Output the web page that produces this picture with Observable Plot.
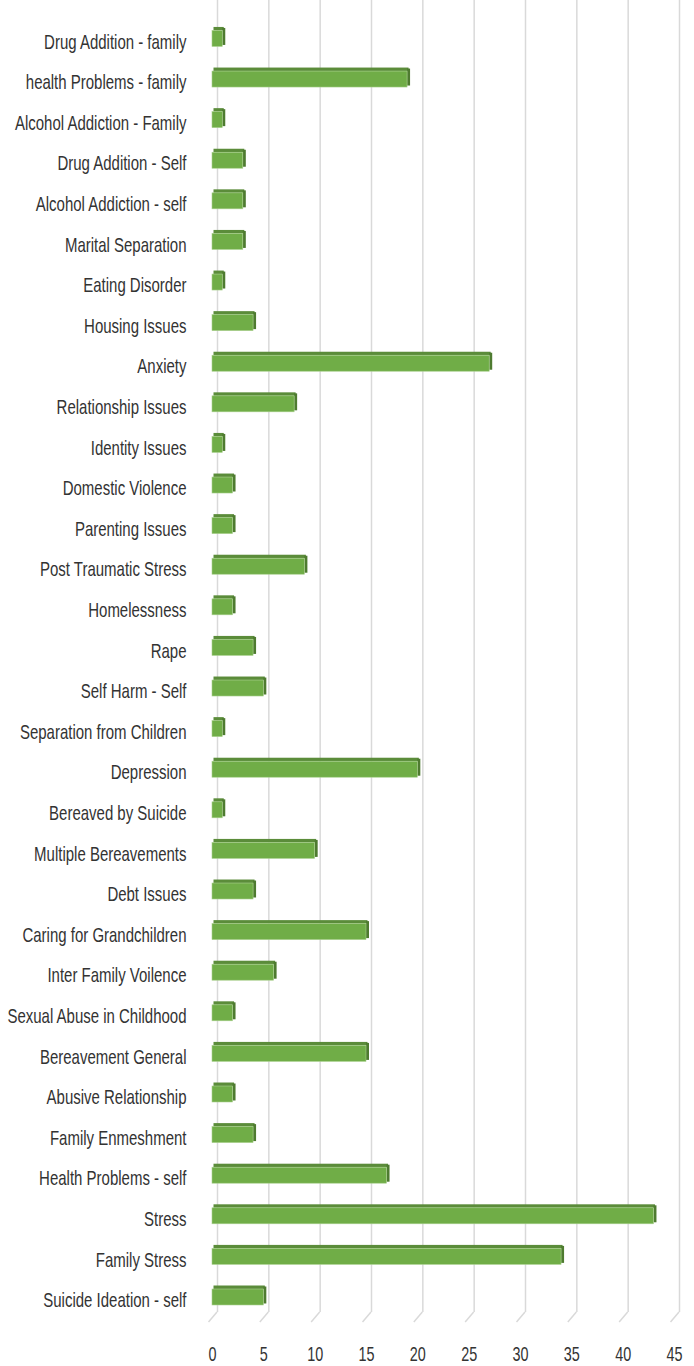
<!DOCTYPE html>
<html>
<head>
<meta charset="utf-8">
<script src="https://cdn.jsdelivr.net/npm/d3@7"></script>
<script src="https://cdn.jsdelivr.net/npm/@observablehq/plot@0.6"></script>
<style>
  html, body { margin: 0; padding: 0; background: #fff; }
</style>
</head>
<body>
<div id="chart"></div>
<script>
const categories = [
  "Drug Addition - family",
  "health Problems - family",
  "Alcohol Addiction - Family",
  "Drug Addition - Self",
  "Alcohol Addiction - self",
  "Marital Separation",
  "Eating Disorder",
  "Housing Issues",
  "Anxiety",
  "Relationship Issues",
  "Identity Issues",
  "Domestic Violence",
  "Parenting Issues",
  "Post Traumatic Stress",
  "Homelessness",
  "Rape",
  "Self Harm - Self",
  "Separation from Children",
  "Depression",
  "Bereaved by Suicide",
  "Multiple Bereavements",
  "Debt Issues",
  "Caring for Grandchildren",
  "Inter Family Voilence",
  "Sexual Abuse in Childhood",
  "Bereavement General",
  "Abusive Relationship",
  "Family Enmeshment",
  "Health Problems - self",
  "Stress",
  "Family Stress",
  "Suicide Ideation - self"
];
const values = [1, 19, 1, 3, 3, 3, 1, 4, 27, 8, 1, 2, 2, 9, 2, 4, 5, 1, 20, 1, 10, 4, 15, 6, 2, 15, 2, 4, 17, 43, 34, 5];
const xTicks = [0, 5, 10, 15, 20, 25, 30, 35, 40, 45];

const data = categories.map((c, i) => ({category: c, value: values[i]}));

const plot = Plot.plot({
  width: 694,
  height: 1366,
  marginTop: 0,
  marginBottom: 54,
  marginLeft: 212,
  marginRight: 20,
  style: {
    fontFamily: "'Liberation Sans', Arial, sans-serif",
    fontSize: "20px",
    color: "#333",
    background: "#fff"
  },
  x: {domain: [0, 45]},
  y: {domain: categories, range: [5.84, 1326.1], padding: 0.52, round: false},
  marks: [
    Plot.ruleX(xTicks, {dx: 5, stroke: "#d9d9d9", strokeWidth: 1.5}),
    // top face
    Plot.barX(data, {x: "value", y: "category", fill: "#5b8c3a", insetBottom: 16, dx: 1.5}),
    // side face
    Plot.barX(data, {x1: "value", x2: "value", y: "category", fill: "#4e7b30", insetRight: -3, insetTop: 1, insetBottom: 1.5}),
    // front face
    Plot.barX(data, {x: "value", y: "category", fill: "#70ad47", stroke: "#a9d08e", strokeWidth: 0.6, insetTop: 3.5}),
    Plot.axisX({ticks: xTicks, tickSize: 0, tickPadding: 34, label: null, fontSize: 20}),
    Plot.axisY({tickSize: 0, tickPadding: 26, dy: 5, label: null, fontSize: 20})
  ]
});

// condense the label glyphs horizontally (the reference uses a narrow face)
function condense(selector, s) {
  d3.select(plot).selectAll(selector).each(function() {
    let t = this.getAttribute("transform") || "";
    const xa = this.getAttribute("x");
    if (xa != null && isFinite(+xa)) {
      t += ` translate(${+xa},0)`;
      this.removeAttribute("x");
    }
    this.setAttribute("transform", `${t} scale(${s},1)`);
  });
}
condense("[aria-label='y-axis tick label'] text", 0.75);
condense("[aria-label='x-axis tick label'] text", 0.72);

// floor lines of the 3D grid, placed through the plot's x scale
const xs = plot.scale("x");
const floorTop = 1366 - 54;
d3.select(plot).insert("g", ":first-child")
  .attr("stroke", "#d9d9d9")
  .attr("stroke-width", 1.5)
  .selectAll("line")
  .data(xTicks)
  .join("line")
  .attr("x1", d => xs.apply(d) + 5)
  .attr("y1", floorTop)
  .attr("x2", d => xs.apply(d) - 3.5)
  .attr("y2", floorTop + 10);

document.getElementById("chart").append(plot);
</script>
</body>
</html>
